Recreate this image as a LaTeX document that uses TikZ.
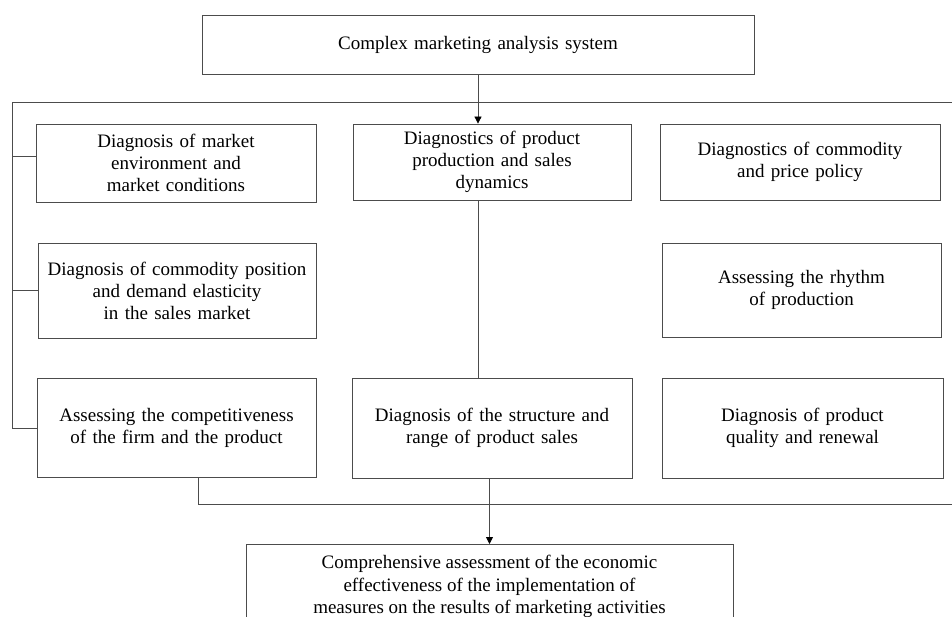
\documentclass[tikz,border=0pt]{standalone}
\usepackage{fontspec}
\setmainfont{Liberation Serif}
\usetikzlibrary{arrows.meta,calc}
\definecolor{linec}{gray}{0.3}
\begin{document}
\begin{tikzpicture}[x=1pt,y=-1pt,
  box/.style={draw=linec, line width=0.8pt, align=center, inner sep=0pt,
    font=\fontsize{19}{22}\selectfont},
  lbl/.style={align=center, inner sep=0pt, font=\fontsize{19}{22.5}\selectfont},
  conn/.style={draw=linec, line width=0.8pt},
  arr/.style={conn, -{Triangle[length=7pt,width=7pt,color=black]}}]
\useasboundingbox (0,0) rectangle (952,617);
\clip (0,0) rectangle (952,617);
\fill[white] (0,0) rectangle (952,617);

\node[box, minimum width=552, minimum height=59, text width=540] (top) at (478,44.5)
  {Complex marketing analysis system};

\node[box, minimum width=280, minimum height=78, text width=270] (b1) at (176,163)
  {Diagnosis of market\\environment and\\market conditions};
\node[box, minimum width=278, minimum height=76, text width=268] (b2) at (492,162)
  {Diagnostics of product\\production and sales\\dynamics};
\node[box, minimum width=280, minimum height=76, text width=270] (b3) at (800,162)
  {Diagnostics of commodity\\and price policy};

\node[box, minimum width=278, minimum height=95, text width=270] (b4) at (177,290.5)
  {Diagnosis of commodity position\\and demand elasticity\\in the sales market};
\node[box, minimum width=279, minimum height=94, text width=270] (b6) at (801.5,290)
  {Assessing the rhythm\\of production};

\node[box, minimum width=279, minimum height=99, text width=270] (b7) at (176.5,427.5)
  {Assessing the competitiveness\\of the firm and the product};
\node[box, minimum width=280, minimum height=100, text width=270] (b8) at (492,428)
  {Diagnosis of the structure and\\range of product sales};
\node[box, minimum width=281, minimum height=100, text width=270] (b9) at (802.5,428)
  {Diagnosis of product\\quality and renewal};

\node[draw=linec, line width=0.8pt, inner sep=0pt, minimum width=487, minimum height=110,
  anchor=north] (bot) at (489.5,544) {};
\node[lbl, anchor=north] (bottext) at ($(bot.north)+(0,11)$)
  {Comprehensive assessment of the economic\\effectiveness of the implementation of\\measures on the results of marketing activities};

% upper bracket
\coordinate (L0) at (12,102);
\coordinate (R0) at (952,102);
\coordinate (L1) at (12,156);
\coordinate (L2) at (12,290);
\coordinate (L3) at (12,428);
\draw[conn] (R0) -- (L0) -- (L3);
\draw[conn] (L1) -- (L1 -| b1.west);
\draw[conn] (L2) -- (L2 -| b4.west);
\draw[conn] (L3) -- (L3 -| b7.west);

% top arrow
\draw[arr] (top.south) -- (top.south |- b2.north);
% middle line
\draw[conn] (b2.south -| top.south) -- (b8.north -| top.south);

% lower bracket
\coordinate (B1) at (198,504);
\coordinate (B2) at (952,504);
\draw[conn] (B1 |- b7.south) -- (B1) -- (B2);
\draw[arr] (bot.north |- b8.south) -- (bot.north);
\end{tikzpicture}
\end{document}
